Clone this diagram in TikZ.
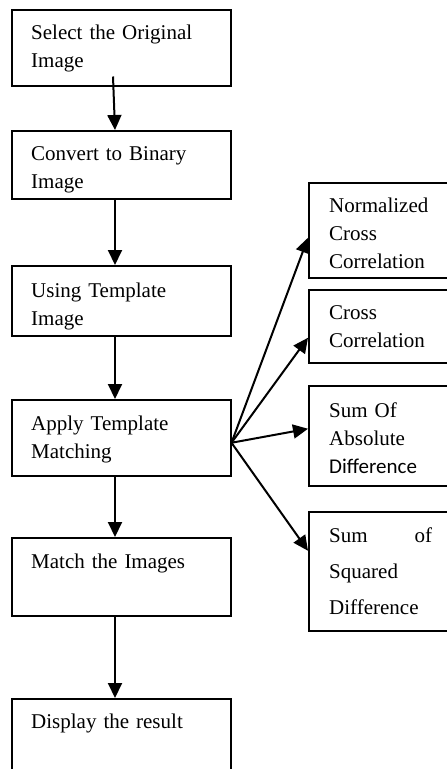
\documentclass[tikz,border=0pt]{standalone}
\usepackage{fontspec}
\setmainfont{Liberation Serif}
\newfontfamily\calfont{Carlito}
\usetikzlibrary{arrows.meta}

\begin{document}
\begin{tikzpicture}[x=1pt,y=-1pt]
      \useasboundingbox (0,0) rectangle (447,769);
      \clip (0,0) rectangle (447,769);
      % boxes
      \begin{scope}[every node/.style={rectangle,draw,line width=1.5pt,anchor=north west,inner sep=0pt}]
      \node[minimum width=219pt,minimum height=76pt] (sel) at (11,9) {};
      \node[minimum width=219pt,minimum height=68pt] (conv) at (11,130) {};
      \node[minimum width=219pt,minimum height=70pt] (tmpl) at (11,265) {};
      \node[minimum width=219pt,minimum height=76pt] (app) at (11,399) {};
      \node[minimum width=219pt,minimum height=78pt] (mat) at (11,537) {};
      \node[minimum width=219pt,minimum height=100pt] (disp) at (11,698) {};
      \node[minimum width=160pt,minimum height=95pt] (ncc) at (308,182) {};
      \node[minimum width=160pt,minimum height=73pt] (cc) at (308,289) {};
      \node[minimum width=160pt,minimum height=100pt] (sad) at (308,385) {};
      \node[minimum width=160pt,minimum height=119pt] (ssd) at (308,511) {};
      \end{scope}
      % texts
      \begin{scope}[every node/.style={anchor=base west,inner sep=0pt,align=left,text width=180pt,font=\fontsize{21}{28}\selectfont}]
      \node (selT) at (31,39) {Select the Original\\Image};
      \node (convT) at (31,160) {Convert to Binary\\Image};
      \node (tmplT) at (31,297) {Using Template\\Image};
      \node (appT) at (31,430) {Apply Template\\Matching};
      \node (matT) at (31,568) {Match the Images};
      \node (dispT) at (31,728) {Display the result};
      \node[text width=110pt] (nccT) at (329,212) {Normalized\\Cross\\Correlation};
      \node[text width=110pt] (ccT) at (329,319) {Cross\\Correlation};
      \node[text width=110pt] (sadT) at (329,417) {Sum Of\\Absolute\\{\calfont Difference}};
      \node[text width=103pt,font=\fontsize{21}{36}\selectfont] (ssdT) at (329,542) {Sum \hfill of\\Squared\\Difference};
      \end{scope}
      % arrows
      \begin{scope}[every edge/.style={draw=black,line width=2pt,-{Triangle[length=15pt,width=14pt]}}]
      \path ([xshift=102pt,yshift=10pt]sel.south west) edge ([xshift=104pt]conv.north west);
      \path ([xshift=104pt]conv.south west) edge ([xshift=104pt]tmpl.north west);
      \path ([xshift=104pt]tmpl.south west) edge ([xshift=104pt]app.north west);
      \path ([xshift=104pt]app.south west) edge ([xshift=104pt]mat.north west);
      \path ([xshift=104pt]mat.south west) edge ([xshift=104pt]disp.north west);
      \path ([yshift=-5pt]app.east) edge ([yshift=-7.5pt]ncc.west);
      \path ([yshift=-5pt]app.east) edge ([yshift=-11.5pt]cc.west);
      \path ([yshift=-5pt]app.east) edge ([yshift=7pt]sad.west);
      \path ([yshift=-5pt]app.east) edge ([yshift=20.5pt]ssd.west);
      \end{scope}
\end{tikzpicture}
\end{document}
